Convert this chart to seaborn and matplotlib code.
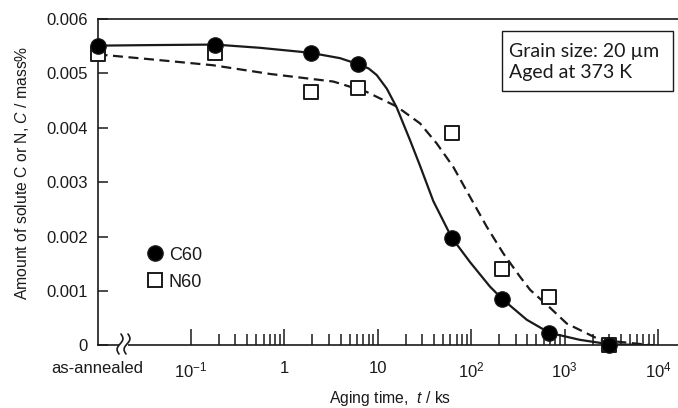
import matplotlib
matplotlib.use("Agg")
import matplotlib.pyplot as plt
from matplotlib.lines import Line2D
import numpy as np
import pandas as pd
import seaborn as sns

# aging time in ks (as-annealed is placed at 0.01 ks), solute content in mass%
c60_t = [0.01, 0.181, 1.92, 6.2, 62, 216, 687, 3020]
c60_c = [0.00551, 0.00553, 0.00537, 0.00517, 0.00198, 0.00085, 0.00023, 0.0]
n60_t = [0.01, 0.181, 1.92, 6.2, 63, 216, 683, 3020]
n60_c = [0.00535, 0.00538, 0.00466, 0.00474, 0.0039, 0.0014, 0.00088, 0.0]

# fitted curves
c60_fit_t = [0.01, 0.0365, 0.181, 0.55, 1.88, 3.95, 6.15, 8.0, 9.75, 12.5, 16.0, 22.2,
             28.4, 39.4, 62, 97.3, 159, 216, 394, 687, 1465, 2990, 8850]
c60_fit_c = [0.00551, 0.00552, 0.00553, 0.00547, 0.00538, 0.00528, 0.00517, 0.00509,
             0.00497, 0.00472, 0.00437, 0.00377, 0.0033, 0.00265, 0.00198, 0.00153,
             0.00108, 0.00085, 0.00047, 0.00023, 0.0001, 0.00002, 0.0]
n60_fit_t = [0.01, 0.0365, 0.172, 0.70, 3.35, 7.6, 16.0, 28.4, 42.9, 64.4, 97.3,
             147, 221, 334, 428, 700, 1057, 2400, 8850]
n60_fit_c = [0.00535, 0.00526, 0.00515, 0.00499, 0.00485, 0.00466, 0.00439, 0.00408,
             0.00371, 0.00328, 0.00273, 0.00218, 0.00169, 0.00126, 0.00102, 0.00069,
             0.0004, 0.0001, 0.0]

yticks = [0, 0.001, 0.002, 0.003, 0.004, 0.005, 0.006]
ytick_labels = ["0", "0.001", "0.002", "0.003", "0.004", "0.005", "0.006"]
xticks = [0.01, 0.1, 1, 10, 100, 1000, 10000]
xtick_labels = ["as-annealed", "10$^{-1}$", "1", "10", "10$^2$", "10$^3$", "10$^4$"]

sns.set_theme(style="ticks")
plt.rcParams["font.family"] = ["Liberation Sans", "DejaVu Sans"]
plt.rcParams["mathtext.fontset"] = "custom"
plt.rcParams["mathtext.rm"] = "Liberation Sans"
plt.rcParams["mathtext.it"] = "Liberation Sans:italic"
ink = "#1a1a1a"

W, H = 678, 408
fig = plt.figure(figsize=(W / 100, H / 100), dpi=100)
ax = fig.add_axes([97.5 / W, 1 - 345.3 / H, 1 - 97.5 / W, (345.3 - 19) / H])

sns.lineplot(x=c60_fit_t, y=c60_fit_c, ax=ax, color=ink, lw=1.6, estimator=None, sort=False)
sns.lineplot(x=n60_fit_t, y=n60_fit_c, ax=ax, color=ink, lw=1.6, estimator=None, sort=False,
             dashes=False, linestyle=(0, (4.5, 2.5)))
ax.scatter(n60_t, n60_c, marker="s", s=95, facecolor="white", edgecolor=ink,
           linewidth=1.4, zorder=4, clip_on=False)
ax.scatter(c60_t, c60_c, marker="o", s=125, facecolor="black", edgecolor=ink,
           linewidth=0.8, zorder=5, clip_on=False)

ax.set_xscale("log")
ax.set_xlim(0.01, 16400)
ax.set_ylim(0, 0.006)
ax.set_yticks(yticks)
ax.set_yticklabels(ytick_labels)
ax.set_xticks(xticks)
ax.set_xticklabels(xtick_labels)
minor = [k * 10.0 ** e for e in range(-1, 4) for k in range(2, 10)]
ax.xaxis.set_minor_locator(matplotlib.ticker.FixedLocator(minor))
ax.xaxis.set_minor_formatter(matplotlib.ticker.NullFormatter())
ax.xaxis.get_major_ticks()[0].tick1line.set_visible(False)

ax.tick_params(axis="x", which="major", direction="in", length=11.5, width=1.1,
               color=ink, labelsize=12, labelcolor=ink, pad=11)
ax.tick_params(axis="x", which="minor", direction="in", length=8, width=1.1, color=ink)
ax.tick_params(axis="y", which="major", direction="in", length=7.5, width=1.1,
               color=ink, labelsize=12, labelcolor=ink, pad=7)
ax.tick_params(top=False, right=False, which="both")

for side in ["left", "bottom", "top"]:
    ax.spines[side].set_color(ink)
    ax.spines[side].set_linewidth(1.2)
ax.spines["right"].set_visible(False)

ax.set_ylabel("Amount of solute C or N, $C$ / mass%", fontsize=11.3, color=ink)
ax.yaxis.set_label_coords(-0.115, 0.53)
ax.set_xlabel("Aging time,  $t$ / ks", fontsize=11.3, color=ink)
ax.xaxis.set_label_coords(0.504, -0.135)

handles = [
    Line2D([], [], marker="o", ls="none", markersize=11, markerfacecolor="black",
           markeredgecolor=ink, label="C60"),
    Line2D([], [], marker="s", ls="none", markersize=10, markerfacecolor="white",
           markeredgecolor=ink, markeredgewidth=1.4, label="N60"),
]
ax.legend(handles=handles, loc="upper left", bbox_to_anchor=(0.064, 0.33), frameon=False,
          fontsize=13, handletextpad=0.2, labelspacing=0.55, borderpad=0, handlelength=1.2,
          labelcolor=ink)

# axis break mark
tf = fig.transFigure
gap = plt.Rectangle((119 / W, 1 - 348 / H), 9 / W, 6 / H, transform=tf,
                    facecolor="white", edgecolor="none", zorder=6)
fig.patches.append(gap)
s = np.linspace(-0.5, 0.5, 40)
for x0 in [120, 127]:
    xs = x0 + 2.4 * np.sin(2 * np.pi * s) + 2 * s
    ys = 344 - 20 * s
    fig.add_artist(Line2D(xs / W, 1 - ys / H, transform=tf, color=ink, lw=1.2, zorder=7))

fig.text(509 / W, 1 - 62 / H, "Grain size: 20 \u00b5m\nAged at 373 K", fontsize=14,
         family=["Lato", "DejaVu Sans"], color=ink, ha="left", va="center", linespacing=1.35)
fig.patches.append(plt.Rectangle((502 / W, 1 - 91 / H), 171 / W, 60 / H, transform=tf,
                                 facecolor="none", edgecolor=ink, lw=1.0))

fig.savefig("out.png", dpi=100)
